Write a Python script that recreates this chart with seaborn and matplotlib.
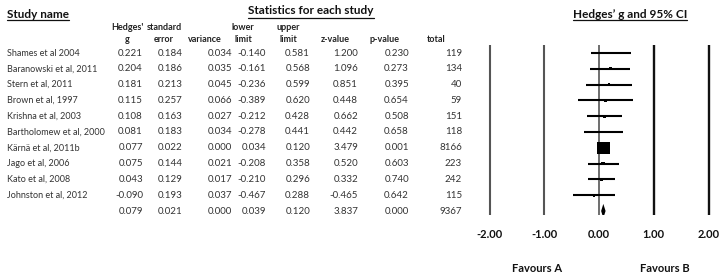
import numpy as np
import pandas as pd
import matplotlib
matplotlib.use("Agg")
import matplotlib.pyplot as plt
import seaborn as sns
from matplotlib.transforms import blended_transform_factory
from matplotlib.lines import Line2D

# ---------------- data ----------------
studies = ["Shames et al 2004", "Baranowski et al, 2011", "Stern et al, 2011",
           "Brown et al, 1997", "Krishna et al, 2003", "Bartholomew et al, 2000",
           "Kärnä et al, 2011b", "Jago et al, 2006", "Kato et al, 2008",
           "Johnston et al, 2012"]
hedges_g = [0.221, 0.204, 0.181, 0.115, 0.108, 0.081, 0.077, 0.075, 0.043, -0.090]
std_err = [0.184, 0.186, 0.213, 0.257, 0.163, 0.183, 0.022, 0.144, 0.129, 0.193]
variance = [0.034, 0.035, 0.045, 0.066, 0.027, 0.034, 0.000, 0.021, 0.017, 0.037]
lower_limit = [-0.140, -0.161, -0.236, -0.389, -0.212, -0.278, 0.034, -0.208, -0.210, -0.467]
upper_limit = [0.581, 0.568, 0.599, 0.620, 0.428, 0.441, 0.120, 0.358, 0.296, 0.288]
z_value = [1.200, 1.096, 0.851, 0.448, 0.662, 0.442, 3.479, 0.520, 0.332, -0.465]
p_value = [0.230, 0.273, 0.395, 0.654, 0.508, 0.658, 0.001, 0.603, 0.740, 0.642]
total = [119, 134, 40, 59, 151, 118, 8166, 223, 242, 115]

summary_g = 0.079
summary_se = 0.021
summary_var = 0.000
summary_lower = 0.039
summary_upper = 0.120
summary_z = 3.837
summary_p = 0.000
summary_total = 9367

tick_values = [-2, -1, 0, 1, 2]
tick_labels = ["-2.00", "-1.00", "0.00", "1.00", "2.00"]
favour_labels = ["Favours A", "Favours B"]

# ---------------- style ----------------
sns.set_theme(style="white")
plt.rcParams["font.family"] = ["Lato", "DejaVu Sans"]

W, H = 723, 278
fig = plt.figure(figsize=(W / 100, H / 100), dpi=100)

# forest axes (pixel layout: 0 at x=599, 54.75 px per unit; rows from y=53, 15.8 px apart)
x0_px, unit_px = 599.0, 54.75
ax_left, ax_right = 480, 720
ax_top, ax_bottom = 45, 215
ax = fig.add_axes([ax_left / W, (H - ax_bottom) / H, (ax_right - ax_left) / W, (ax_bottom - ax_top) / H])
ax.set_xlim((ax_left - x0_px) / unit_px, (ax_right - x0_px) / unit_px)
row0, row_step = 53.0, 15.8
ax.set_ylim((ax_bottom - row0) / row_step, (ax_top - row0) / row_step)

n = len(studies)
rows = np.arange(n)
summary_row = n

df = pd.DataFrame({"study": studies, "g": hedges_g, "se": std_err,
                   "lo": lower_limit, "hi": upper_limit, "row": rows})
weights = 1.0 / df["se"] ** 2
side_px = 1.6 + 11.0 * np.sqrt(weights / weights.max())
df["size"] = (side_px * 0.72) ** 2

# reference lines
line_styles = {-2: ("#555555", 1.5), -1: ("#555555", 1.5), 0: ("#555555", 1.2),
               1: ("#111111", 1.7), 2: ("#111111", 1.7)}
for t in tick_values:
    c, lw = line_styles[t]
    ax.axvline(t, color=c, lw=lw, zorder=1)

ax.hlines(df["row"], df["lo"], df["hi"], color="black", lw=1.5, zorder=2)
sns.scatterplot(data=df, x="g", y="row", size="size", sizes=(df["size"].min(), df["size"].max()),
                marker="s", color="black", linewidth=0, legend=False, ax=ax, zorder=3)

# summary diamond
dh = 0.45
ax.fill([summary_lower, summary_g, summary_upper, summary_g],
        [summary_row, summary_row - dh, summary_row, summary_row + dh],
        color="black", zorder=3, lw=0)

ax.set_xticks(tick_values)
ax.set_xticklabels(tick_labels, fontsize=8, fontweight="bold", color="#111111")
ax.tick_params(axis="x", length=0, pad=10)
ax.set_yticks([])
ax.set_xlabel("")
ax.set_ylabel("")
for s in ax.spines.values():
    s.set_visible(False)
ax.patch.set_alpha(0)

# ---------------- table text ----------------
trans = blended_transform_factory(fig.transFigure, ax.transData)
txt_color = "#333333"
fs = 7.0
name_fs = 6.5


def fx(px):
    return px / W


def fy(py):
    return 1 - py / H


for i in range(n):
    ax.text(fx(7), rows[i], studies[i], transform=trans, ha="left", va="center",
            fontsize=name_fs, color=txt_color)

col_right = [143, 183, 232, 266, 310, 358, 409, 462]
columns = [hedges_g, std_err, variance, lower_limit, upper_limit, z_value, p_value]
for xr, vals in zip(col_right[:-1], columns):
    for i, v in enumerate(vals):
        ax.text(fx(xr), rows[i], f"{v:.3f}", transform=trans, ha="right", va="center",
                fontsize=fs, color=txt_color)
for i, v in enumerate(total):
    ax.text(fx(col_right[-1]), rows[i], f"{v}", transform=trans, ha="right", va="center",
            fontsize=fs, color=txt_color)

summary_vals = [summary_g, summary_se, summary_var, summary_lower, summary_upper, summary_z, summary_p]
for xr, v in zip(col_right[:-1], summary_vals):
    ax.text(fx(xr), summary_row, f"{v:.3f}", transform=trans, ha="right", va="center",
            fontsize=fs, color=txt_color)
ax.text(fx(col_right[-1]), summary_row, f"{summary_total}", transform=trans, ha="right",
        va="center", fontsize=fs, color=txt_color)

# column headers
hfs = 6.5
headers = [("Hedges'", "g", 127), ("standard", "error", 164), (None, "variance", 205),
           ("lower", "limit", 243), ("upper", "limit", 288), (None, "z-value", 335),
           (None, "p-value", 384), (None, "total", 436)]
for top, bottom, xc in headers:
    if top:
        fig.text(fx(xc), fy(27), top, ha="center", va="center", fontsize=hfs,
                 fontweight="bold", color="#222222")
    fig.text(fx(xc), fy(40), bottom, ha="center", va="center", fontsize=hfs,
             fontweight="bold", color="#222222")

# headings with underline
titles = [
    fig.text(fx(7), fy(14), "Study name", ha="left", va="center", fontsize=8.5,
             fontweight="bold", color="#111111"),
    fig.text(fx(311), fy(11), "Statistics for each study", ha="center", va="center",
             fontsize=8.5, fontweight="bold", color="#111111"),
    fig.text(fx(630), fy(14), "Hedges\u2019 g and 95% CI", ha="center", va="center",
             fontsize=8.5, fontweight="bold", color="#111111"),
]

fig.text(fx(537), fy(268), favour_labels[0], ha="center", va="center", fontsize=8,
         fontweight="bold", color="#111111")
fig.text(fx(665), fy(268), favour_labels[1], ha="center", va="center", fontsize=8,
         fontweight="bold", color="#111111")

fig.canvas.draw()
renderer = fig.canvas.get_renderer()
for t in titles:
    bb = t.get_window_extent(renderer).transformed(fig.transFigure.inverted())
    yline = bb.y0 - 1.0 / H
    fig.add_artist(Line2D([bb.x0, bb.x1], [yline, yline], transform=fig.transFigure,
                          color="#111111", lw=0.9))

fig.savefig("out.png", dpi=100, facecolor="white")
